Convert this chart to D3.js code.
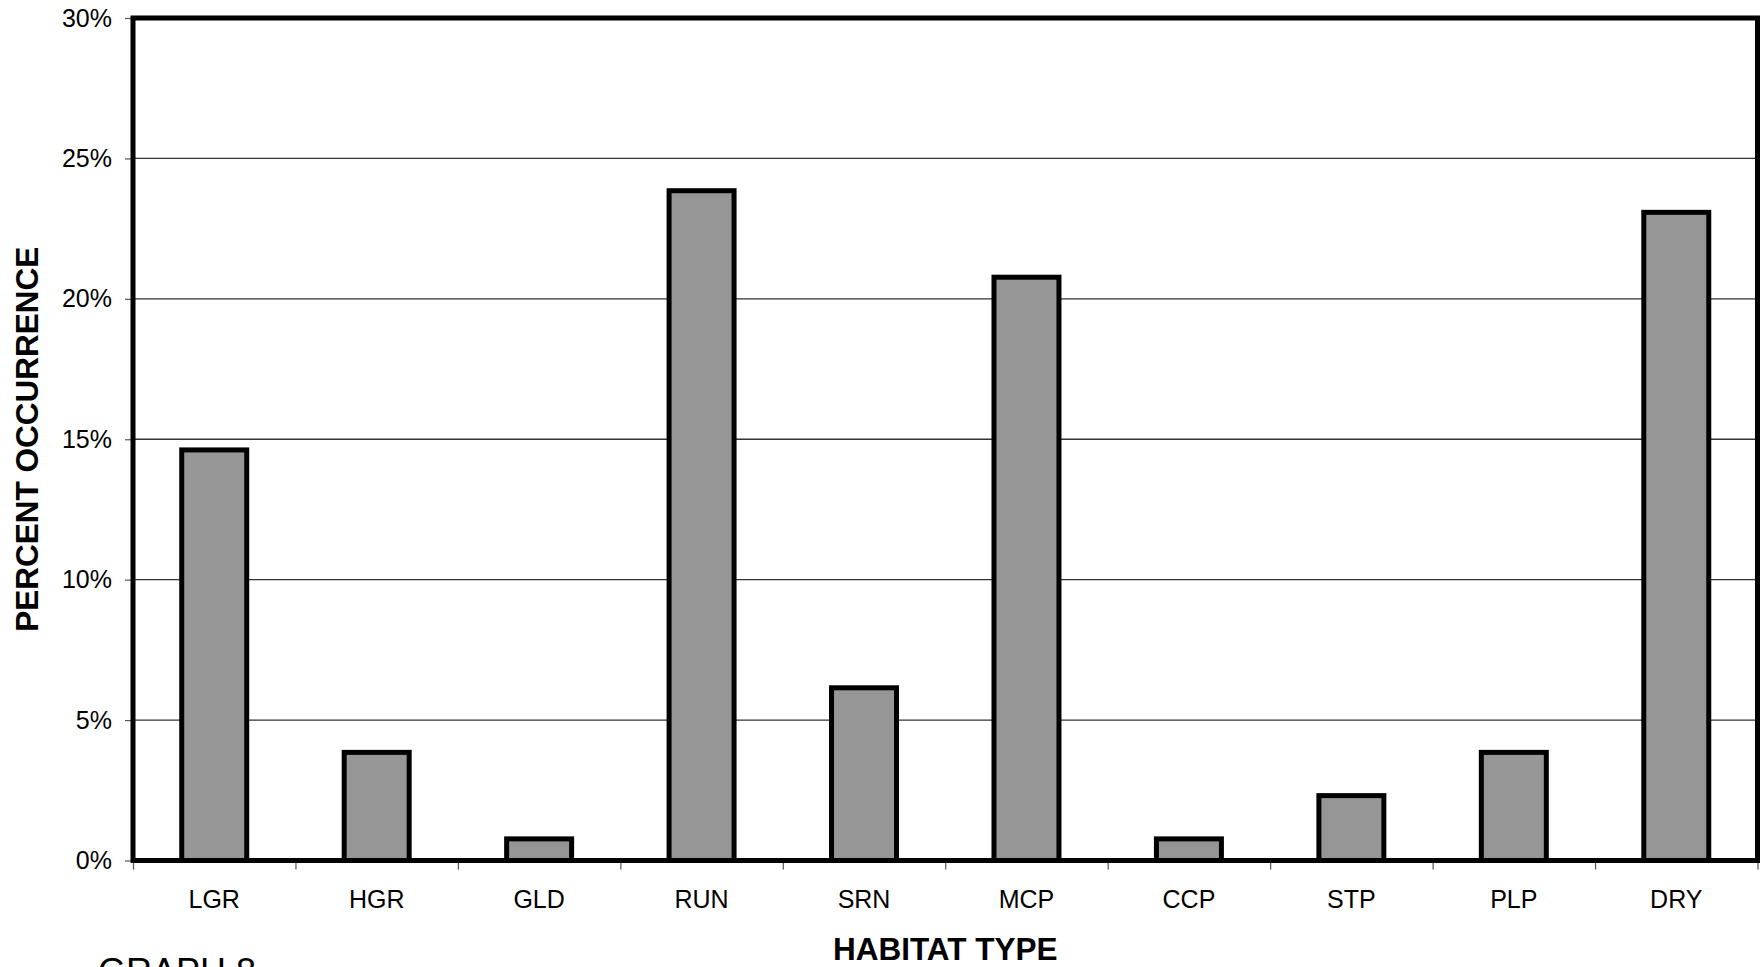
<!DOCTYPE html>
<html>
<head>
<meta charset="utf-8">
<script src="https://cdn.jsdelivr.net/npm/d3@7"></script>
<style>
  html, body { margin: 0; padding: 0; background: #fff; overflow: hidden; }
  svg { display: block; }
  text { font-family: "Liberation Sans", Arial, sans-serif; fill: #000; }
</style>
</head>
<body>
<svg id="chart" width="1764" height="967"></svg>
<script>
const categories = ["LGR", "HGR", "GLD", "RUN", "SRN", "MCP", "CCP", "STP", "PLP", "DRY"];
const values = [14.62, 3.85, 0.77, 23.85, 6.15, 20.77, 0.77, 2.31, 3.85, 23.08];
const yTicks = [0, 5, 10, 15, 20, 25, 30];
const yTickLabels = ["0%", "5%", "10%", "15%", "20%", "25%", "30%"];
const xTitle = "HABITAT TYPE";
const yTitle = "PERCENT OCCURRENCE";
const footer = "GRAPH 8";

const svg = d3.select("#chart");
const L = 133, R = 1757.5, T = 18, B = 860.5;

const x = d3.scaleBand().domain(categories).range([L, R]).paddingInner(0.6).paddingOuter(0.3);
const xEdge = d3.scaleLinear().domain([0, categories.length]).range([L, R]);
const y = d3.scaleLinear().domain([0, 30]).range([B, T]);

// gridlines
svg.append("g").selectAll("line").data(yTicks.filter(d => d > 0 && d < 30)).join("line")
  .attr("x1", L).attr("x2", R).attr("y1", d => y(d)).attr("y2", d => y(d))
  .attr("stroke", "#333").attr("stroke-width", 1.3);

// y axis ticks and labels
const yAxis = d3.axisLeft(y).tickValues(yTicks).tickSize(8).tickPadding(13)
  .tickFormat((d, i) => yTickLabels[i]);
const gy = svg.append("g").attr("transform", `translate(${L},0)`).call(yAxis);
gy.select(".domain").remove();
gy.selectAll(".tick line").attr("stroke", "#555").attr("stroke-width", 1.2);
gy.selectAll(".tick text").style("font-size", "25px").style("font-family", "Liberation Sans, Arial, sans-serif").attr("fill", "#000");

// x boundary ticks
const xTickAxis = d3.axisBottom(xEdge).tickValues(d3.range(0, categories.length + 1)).tickSize(9).tickFormat("");
const gxt = svg.append("g").attr("transform", `translate(0,${B})`).call(xTickAxis);
gxt.select(".domain").remove();
gxt.selectAll(".tick line").attr("stroke", "#555").attr("stroke-width", 1.2);

// x labels
const xAxis = d3.axisBottom(x).tickSize(0).tickPadding(30);
const gx = svg.append("g").attr("transform", `translate(0,${B})`).call(xAxis);
gx.select(".domain").remove();
gx.selectAll(".tick text").style("font-size", "25px").style("font-family", "Liberation Sans, Arial, sans-serif").attr("fill", "#000");

// bars
svg.append("g").selectAll("rect").data(categories).join("rect")
  .attr("x", d => x(d))
  .attr("y", (d, i) => y(values[i]))
  .attr("width", x.bandwidth())
  .attr("height", (d, i) => y(0) - y(values[i]))
  .attr("fill", "#969696").attr("stroke", "#000").attr("stroke-width", 5);

// frame
svg.append("rect").attr("x", L).attr("y", T).attr("width", R - L).attr("height", B - T)
  .attr("fill", "none").attr("stroke", "#000").attr("stroke-width", 5);

// titles
svg.append("text").attr("x", (L + R) / 2).attr("y", 960).attr("text-anchor", "middle")
  .style("font-size", "31.5px").style("font-weight", "bold").text(xTitle);
svg.append("text").attr("transform", `translate(38,${(T + B) / 2}) rotate(-90)`).attr("text-anchor", "middle")
  .style("font-size", "31.5px").style("font-weight", "bold").text(yTitle);
svg.append("text").attr("x", 98).attr("y", 984).style("font-size", "36px").text(footer);
</script>
</body>
</html>
